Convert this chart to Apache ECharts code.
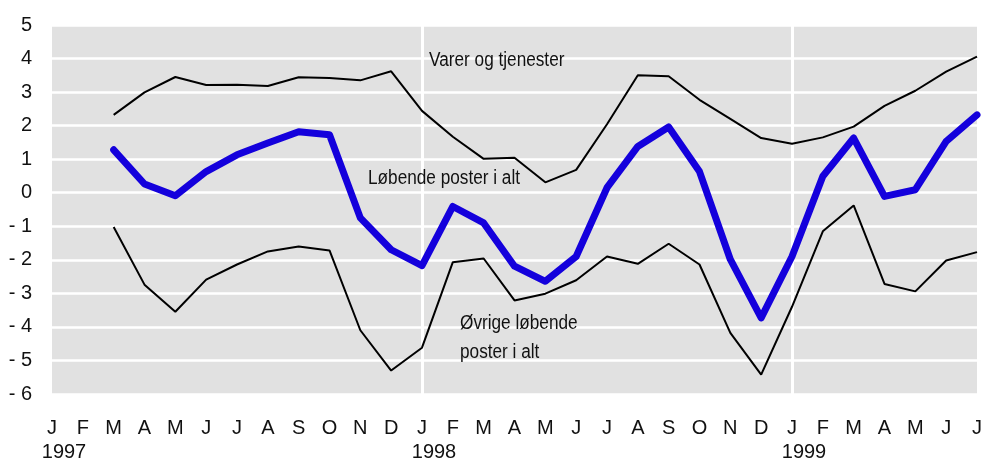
<!DOCTYPE html>
<html>
<head>
<meta charset="utf-8">
<script src="https://cdn.jsdelivr.net/npm/echarts@6/dist/echarts.min.js"></script>
<style>
  html, body { margin: 0; padding: 0; background: #fff; }
  #chart { width: 985px; height: 462px; }
</style>
</head>
<body>
<div id="chart"></div>
<script>
// måneder jan 1997 - jul 1999
var months = ['J','F','M','A','M','J','J','A','S','O','N','D',
              'J','F','M','A','M','J','J','A','S','O','N','D',
              'J','F','M','A','M','J','J'];
var years = ['1997', '1998', '1999']; // vises under hver januar

// Varer og tjenester
var varer = [null, null,
  2.32, 2.99, 3.45, 3.21, 3.22, 3.18, 3.44, 3.42, 3.35, 3.62,
  2.44, 1.67, 1.01, 1.04, 0.31, 0.68, 2.04, 3.50, 3.47, 2.77, 2.20, 1.63,
  1.46, 1.65, 1.97, 2.59, 3.04, 3.61, 4.06];

// Løbende poster i alt
var lobende = [null, null,
  1.28, 0.26, -0.09, 0.63, 1.13, 1.48, 1.82, 1.73, -0.75, -1.70,
  -2.17, -0.41, -0.90, -2.19, -2.64, -1.90, 0.15, 1.38, 1.96, 0.63, -1.99, -3.73,
  -1.90, 0.49, 1.63, -0.11, 0.09, 1.53, 2.32];

// Øvrige løbende poster i alt
var ovrige = [null, null,
  -1.02, -2.74, -3.55, -2.59, -2.14, -1.75, -1.60, -1.72, -4.10, -5.30,
  -4.62, -2.07, -1.96, -3.21, -3.01, -2.61, -1.90, -2.12, -1.52, -2.14, -4.18, -5.42,
  -3.40, -1.15, -0.38, -2.72, -2.94, -2.02, -1.77];

var font = '"Liberation Sans Narrow", "Liberation Sans", Arial, sans-serif';

// tekst i plottet, lidt sammenpresset
function label(x, y, txt) {
  return {
    type: 'text', x: x, y: y, z: 100, scaleX: 0.86,
    style: { text: txt, font: '20px ' + font, fill: '#111', lineHeight: 29, verticalAlign: 'top' }
  };
}

var chart = echarts.init(document.getElementById('chart'));

var option = {
  backgroundColor: '#ffffff',
  animation: false,
  grid: {
    left: 52,
    right: 5,
    top: 25,
    bottom: 67,
    show: true,
    backgroundColor: '#e1e1e1',
    borderWidth: 0
  },
  xAxis: [
    {
      type: 'category',
      data: months,
      boundaryGap: false,
      axisLine: { show: false },
      axisTick: { show: false },
      axisLabel: {
        interval: 0,
        margin: 24,
        color: '#111',
        fontFamily: font,
        fontSize: 20
      },
      splitLine: {
        show: true,
        interval: function (i) { return i === 12 || i === 24; },
        lineStyle: { color: '#ffffff', width: 3 }
      }
    },
    {
      type: 'category',
      data: months,
      boundaryGap: false,
      position: 'bottom',
      offset: 24,
      axisLine: { show: false },
      axisTick: { show: false },
      axisLabel: {
        interval: 0,
        margin: 24,
        color: '#111',
        fontFamily: font,
        fontSize: 20,
        padding: [0, 0, 0, 24],
        formatter: function (v, i) {
          return i % 12 === 0 ? years[i / 12] : '';
        }
      },
      splitLine: { show: false }
    }
  ],
  yAxis: {
    type: 'value',
    min: -6,
    max: 5,
    interval: 1,
    axisLine: { show: false },
    axisTick: { show: false },
    axisLabel: {
      margin: 20,
      color: '#111',
      fontFamily: font,
      fontSize: 20,
      formatter: function (v) { return v < 0 ? '- ' + Math.abs(v) : String(v); }
    },
    splitLine: {
      show: true,
      lineStyle: { color: '#ffffff', width: 2.5 }
    }
  },
  graphic: [
    label(429, 46, 'Varer og tjenester'),
    label(368, 164, 'Løbende poster i alt'),
    label(460, 309, 'Øvrige løbende\nposter i alt')
  ],
  series: [
    {
      name: 'Varer og tjenester',
      type: 'line',
      data: varer,
      symbol: 'none',
      lineStyle: { color: '#000', width: 2 },
      z: 3
    },
    {
      name: 'Øvrige løbende poster i alt',
      type: 'line',
      data: ovrige,
      symbol: 'none',
      lineStyle: { color: '#000', width: 2 },
      z: 3
    },
    {
      name: 'Løbende poster i alt',
      type: 'line',
      data: lobende,
      symbol: 'none',
      lineStyle: { color: '#1400dc', width: 7, cap: 'round', join: 'round' },
      z: 4
    }
  ]
};

chart.setOption(option);
</script>
</body>
</html>
